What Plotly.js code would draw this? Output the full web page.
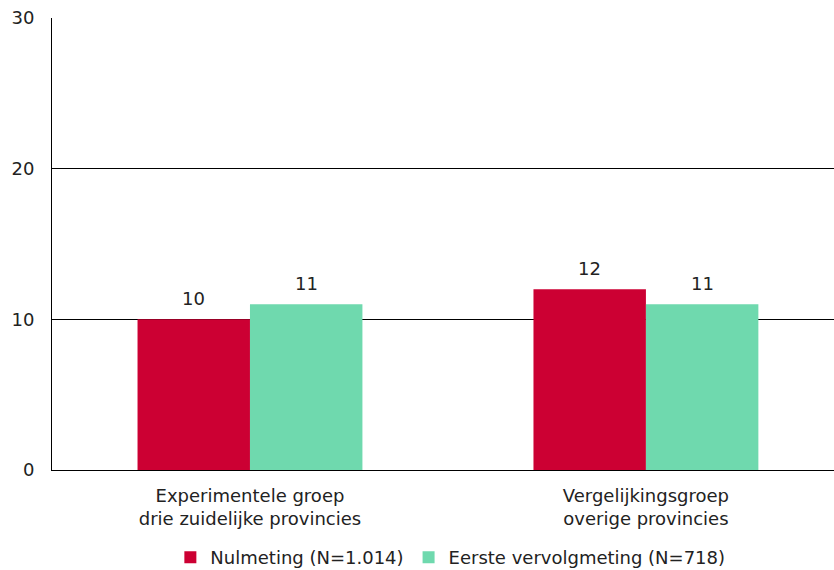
<!DOCTYPE html>
<html>
<head>
<meta charset="utf-8">
<script src="https://cdn.plot.ly/plotly-3.0.1.min.js"></script>
<style>html,body{margin:0;padding:0;background:#fff;}#chart{width:834px;height:570px;}</style>
</head>
<body>
<div id="chart"></div>
<script>
const categories = ["Experimentele groep<br>drie zuidelijke provincies", "Vergelijkingsgroep<br>overige provincies"];
const seriesNames = ["Nulmeting (N=1.014)", "Eerste vervolgmeting (N=718)"];
const nulmeting = [10, 12];
const vervolgmeting = [11, 11];
const colors = ["#cc0033", "#6fd9ae"];
const yTicks = [0, 10, 20, 30];

const font = {family: "DejaVu Sans, Verdana, sans-serif", size: 18, color: "#222"};
const bargap = 0.432;
const series = [nulmeting, vervolgmeting];

const traces = series.map((vals, i) => ({
  type: "bar",
  name: seriesNames[i],
  x: [0, 1],
  y: vals,
  marker: {color: colors[i], line: {width: 0}},
  hoverinfo: "skip"
}));

// value labels above each bar, positioned via data coordinates
const barW = (1 - bargap) / series.length;
const annotations = [];
series.forEach((vals, s) => {
  vals.forEach((v, c) => {
    annotations.push({
      x: c + (s - (series.length - 1) / 2) * barW,
      y: v,
      xref: "x", yref: "y",
      text: String(v),
      showarrow: false,
      yanchor: "bottom",
      yshift: 8,
      font: font
    });
  });
});

const layout = {
  width: 834,
  height: 570,
  margin: {l: 52, r: 0, t: 18, b: 100, autoexpand: false},
  paper_bgcolor: "#fff",
  plot_bgcolor: "#fff",
  font: font,
  barmode: "group",
  bargap: bargap,
  bargroupgap: 0,
  showlegend: true,
  annotations: annotations,
  legend: {
    orientation: "h",
    xref: "container", yref: "container",
    x: 0.54, xanchor: "center",
    y: 0.022, yanchor: "middle",
    font: font,
    itemwidth: 30,
    traceorder: "normal"
  },
  xaxis: {
    range: [-0.5, 1.475],
    tickvals: [0, 1],
    ticktext: categories,
    showline: true,
    linecolor: "#000",
    linewidth: 1,
    showgrid: false,
    zeroline: false,
    ticks: "",
    ticklabelstandoff: 9,
    tickfont: font,
    fixedrange: true
  },
  yaxis: {
    range: [0, 30],
    tickvals: yTicks,
    ticktext: yTicks.map(String),
    showline: true,
    linecolor: "#000",
    linewidth: 1,
    showgrid: true,
    gridcolor: "#000",
    gridwidth: 1,
    zeroline: false,
    ticks: "",
    ticklabelstandoff: 13,
    tickfont: font,
    fixedrange: true
  }
};

Plotly.newPlot("chart", traces, layout, {displayModeBar: false, staticPlot: true});
</script>
</body>
</html>
